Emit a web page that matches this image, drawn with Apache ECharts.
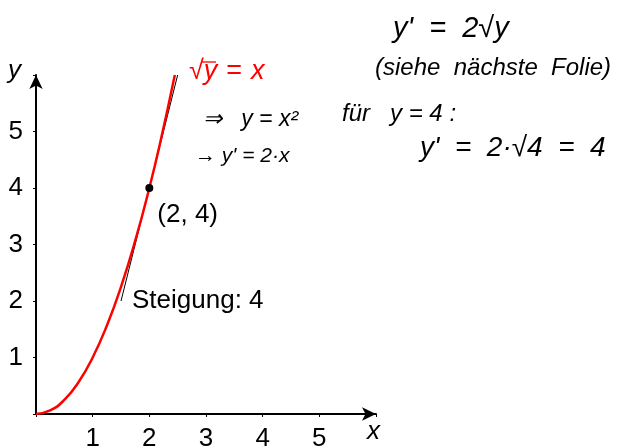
<!DOCTYPE html>
<html>
<head>
<meta charset="utf-8">
<script src="https://cdn.jsdelivr.net/npm/echarts@6/dist/echarts.min.js"></script>
<style>
  html, body { margin: 0; padding: 0; background: #fff; }
  #chart { width: 629px; height: 448px; }
</style>
</head>
<body>
<div id="chart"></div>
<script>
// Parabola y = x^2, sampled points
const curveX = [0, 0.25, 0.5, 0.75, 1.0, 1.25, 1.5, 1.75, 2.0, 2.2, 2.45];
const curveY = [0, 0.0625, 0.25, 0.5625, 1.0, 1.5625, 2.25, 3.0625, 4.0, 4.84, 6.0];
// Tangent at (2, 4) with slope 4
const tangentX = [1.5, 2.5];
const tangentY = [2, 6];
const pointX = [2];
const pointY = [4];
const xTicks = [1, 2, 3, 4, 5];
const yTicks = [1, 2, 3, 4, 5];

const zip = (a, b) => a.map((v, i) => [v, b[i]]);

const chart = echarts.init(document.getElementById('chart'), null, { renderer: 'canvas' });
const font = '"Liberation Sans", sans-serif';
const hand = '"Liberation Sans", sans-serif';

const axisCommon = {
  type: 'value', min: 0, max: 6, interval: 1,
  axisLine: { show: true, onZero: false, symbol: ['none', 'arrow'], symbolSize: [10, 14], lineStyle: { color: '#000', width: 2 } },
  axisTick: { show: true, length: 3, inside: false, lineStyle: { color: '#000', width: 1 } },
  splitLine: { show: false }
};

chart.setOption({
  animation: false,
  grid: { left: 36, top: 75, width: 340, height: 339, containLabel: false, outerBoundsMode: 'none' },
  xAxis: Object.assign({}, axisCommon, {
    axisLabel: {
      color: '#000', fontSize: 26, fontFamily: font, margin: 12,
      formatter: v => xTicks.includes(v) ? String(v) : ''
    }
  }),
  yAxis: Object.assign({}, axisCommon, {
    axisLabel: {
      color: '#000', fontSize: 26, fontFamily: font, margin: 13,
      formatter: v => yTicks.includes(v) ? String(v) : ''
    }
  }),
  series: [
    {
      type: 'line', data: zip(tangentX, tangentY), symbol: 'none',
      lineStyle: { color: '#000', width: 1 }, z: 2,
      markPoint: {
        symbol: 'circle', symbolSize: 0,
        data: [{ coord: [tangentX[0], tangentY[0]] }],
        label: { show: true, position: 'right', distance: 11, formatter: 'Steigung: 4', color: '#000', fontSize: 26, fontFamily: font }
      }
    },
    {
      type: 'line', data: zip(curveX, curveY), smooth: true, symbol: 'none',
      lineStyle: { color: '#ff0000', width: 2.5 }, z: 3
    },
    {
      type: 'scatter', data: zip(pointX, pointY), symbol: 'circle', symbolSize: 8,
      itemStyle: { color: '#000', opacity: 1 }, z: 4,
      label: {
        show: true, position: [12, 18], formatter: '(2, 4)',
        color: '#000', fontSize: 26, fontFamily: font
      }
    }
  ],
  graphic: [
    // axis names
    { type: 'text', left: 8, top: 58, style: { text: 'y', font: 'italic 26px ' + font, fill: '#000' } },
    { type: 'text', left: 367, top: 419, style: { text: 'x', font: 'italic 26px ' + font, fill: '#000' } },
    // curve label: sqrt(y) = x
    { type: 'text', left: 189, top: 58, style: {
        text: '{r|√}{i|y}{e|=}{i|x}',
        rich: {
          r: { font: '27px ' + font, fill: '#ff0000' },
          i: { font: 'italic 27px ' + font, fill: '#ff0000' },
          e: { font: '27px ' + font, fill: '#ff0000', padding: [0, 9, 0, 9] }
        }
    } },
    { type: 'line', shape: { x1: 201, y1: 62, x2: 216, y2: 62 }, style: { stroke: '#ff0000', lineWidth: 1.3 } },
    // handwritten notes
    { type: 'text', left: 203, top: 108, style: { text: '⇒   y = x²', font: 'italic 23px ' + hand, fill: '#000' } },
    { type: 'text', left: 195, top: 146, style: { text: '→ y\' = 2·x', font: 'italic 21px ' + hand, fill: '#000' } },
    { type: 'text', left: 393, top: 14, style: { text: 'y\'  =  2√y', font: 'italic 29px ' + hand, fill: '#000' } },
    { type: 'text', left: 375, top: 56, style: { text: '(siehe  nächste  Folie)', font: 'italic 24px ' + hand, fill: '#000' } },
    { type: 'text', left: 342, top: 102, style: { text: 'für   y = 4 :', font: 'italic 24px ' + hand, fill: '#000' } },
    { type: 'text', left: 420, top: 134, style: { text: 'y\'  =  2·√4  =  4', font: 'italic 28px ' + hand, fill: '#000' } }
  ]
});
</script>
</body>
</html>
